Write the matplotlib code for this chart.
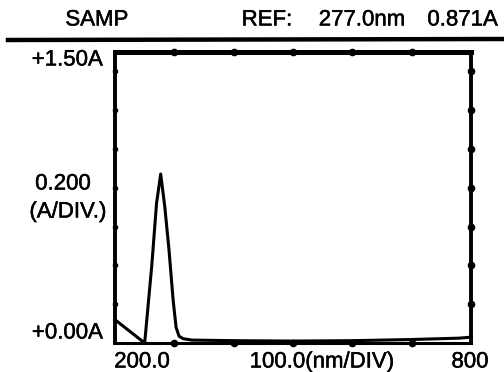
"""UV-Vis spectrophotometer printout: absorbance scan 200-800 nm."""
import matplotlib
matplotlib.use("Agg")
import matplotlib.pyplot as plt
import matplotlib.patheffects as pe
from matplotlib.lines import Line2D

plt.rcParams["font.family"] = ["Liberation Sans", "DejaVu Sans"]

# spectrum
wavelength = [200, 250, 262, 270, 277, 284, 291, 298, 303, 308, 315, 330, 400, 500, 600, 700, 780, 800]
absorbance = [0.12, 0.0, 0.40, 0.72, 0.871, 0.70, 0.48, 0.22, 0.08, 0.035, 0.022, 0.015, 0.012, 0.010, 0.012, 0.018, 0.025, 0.03]

x_divs = [300, 400, 500, 600, 700]
y_divs = [0.2, 0.4, 0.6, 0.8, 1.0, 1.2, 1.4]

W, H = 504, 372
fig = plt.figure(figsize=(W / 100, H / 100), dpi=100)
L, R, TOP, BOT = 115, 471, 52, 343
ax = fig.add_axes([L / W, 1 - BOT / H, (R - L) / W, (BOT - TOP) / H])
ax.set_xlim(200, 800)
ax.set_ylim(0, 1.5)
ax.set_xticks([]); ax.set_yticks([])
for side, s in ax.spines.items():
    s.set_linewidth(2.8)
    s.set_color("black")
ax.spines["top"].set_linewidth(3.6)
ax.spines["bottom"].set_linewidth(2.2)

# division dots on the frame
kw = dict(color="black", marker="o", ms=4.5, ls="none", clip_on=False, zorder=5)
ax.plot(x_divs, [1.5] * len(x_divs), **kw)
ax.plot(x_divs, [0] * len(x_divs), **kw)
ax.plot([800] * len(y_divs), y_divs, **kw)
ax.plot([200] * len(y_divs), y_divs, color="black", marker="o", ms=3,
        ls="none", clip_on=False, zorder=5)

ax.plot(wavelength, absorbance, color="black", lw=2.2, solid_joinstyle="round",
        clip_on=False, zorder=4)

# header rule
fig.add_artist(Line2D([8 / W, 1.0], [1 - 40 / H, 1 - 39 / H], color="black",
                      lw=3.2, transform=fig.transFigure))

fs = 16
heavy = [pe.withStroke(linewidth=0.35, foreground="black")]


def label(x, y, s, ha="center"):
    fig.text(x / W, 1 - y / H, s, ha=ha, va="center", fontsize=fs,
             path_effects=heavy)


label(97, 20, "SAMP")
label(267, 20, "REF:")
label(362, 20, "277.0nm")
label(498, 20, "0.871A", ha="right")
label(103, 60, "+1.50A", ha="right")
label(63, 184, "0.200")
label(68, 212, "(A/DIV.)")
label(103, 333, "+0.00A", ha="right")
label(142, 362, "200.0")
label(322, 362, "100.0(nm/DIV)")
label(470, 362, "800")

fig.savefig("out.png", dpi=100)
